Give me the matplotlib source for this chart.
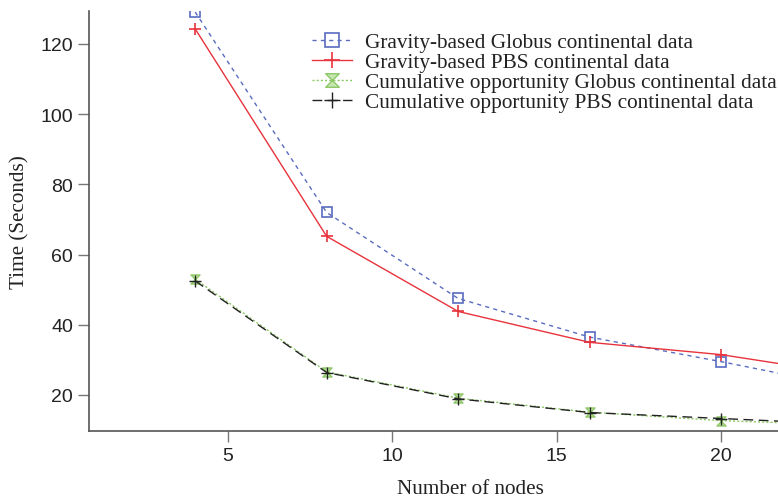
import numpy as np
import matplotlib
matplotlib.use("Agg")
import matplotlib.pyplot as plt
from matplotlib.path import Path

nodes = [4, 8, 12, 16, 20, 24]
grav_globus = [129.1, 72.0, 47.5, 36.5, 29.5, 22.0]
grav_pbs = [124.3, 65.2, 43.8, 35.0, 31.5, 25.7]
cum_globus = [53.0, 26.6, 19.1, 15.1, 12.7, 11.4]
cum_pbs = [52.5, 26.4, 18.9, 15.0, 13.3, 11.6]

labels = [
    "Gravity-based Globus continental data",
    "Gravity-based PBS continental data",
    "Cumulative opportunity Globus continental data",
    "Cumulative opportunity PBS continental data",
]

xticks = [5, 10, 15, 20]
yticks = [20, 40, 60, 80, 100, 120]

hourglass = Path([(-1, 1), (1, 1), (-1, -1), (1, -1), (-1, 1)],
                 [Path.MOVETO, Path.LINETO, Path.LINETO, Path.LINETO, Path.CLOSEPOLY])

fig = plt.figure(figsize=(7.78, 5.02), dpi=100)
ax = fig.add_axes([89/778, 70/502, 1 - 89/778, (432-12)/502])

blue = "#5a6cc0"
red = "#e8333c"
green = "#8cc865"

ax.plot(nodes, grav_globus, color=blue, lw=1.0, ls=(0, (3, 3)), marker="s", ms=7,
        mfc="none", mec=blue, mew=1.2, label=labels[0])
ax.plot(nodes, grav_pbs, color=red, lw=1.0, ls="-", marker="+", ms=8, mew=1.2,
        label=labels[1])
ax.plot(nodes, cum_globus, color=green, lw=1.0, ls=(0, (1.5, 1.5)), marker=hourglass, ms=6.5,
        mfc="#c8e6b0", mec=green, mew=1.0, label=labels[2])
ax.plot(nodes, cum_pbs, color="#222222", lw=1.0, ls=(0, (7, 4)), marker="+", ms=8, mew=1.0,
        label=labels[3])

ax.set_xlim(0.77, 21.73)
ax.set_ylim(9.74, 129.4)
ax.set_xticks(xticks)
ax.set_yticks(yticks)

for s in ["top", "right"]:
    ax.spines[s].set_visible(False)
for s in ["left", "bottom"]:
    ax.spines[s].set_color("#555555")
    ax.spines[s].set_linewidth(1.2)
ax.tick_params(direction="out", length=8, width=1.0, color="#777777",
               labelsize=14, labelcolor="#222222")
for t in ax.get_xticklabels() + ax.get_yticklabels():
    t.set_fontfamily("Liberation Sans")

ax.set_xlabel("Number of nodes", fontfamily="Liberation Serif", fontsize=15.2,
              color="#222222")
ax.xaxis.set_label_coords(0.554, -0.115)
ax.set_ylabel("Time (Seconds)", fontfamily="Liberation Serif", fontsize=15.2,
              color="#222222", labelpad=8)

leg = ax.legend(loc="upper left", bbox_to_anchor=(0.311, 0.969), frameon=False,
                prop={"family": "Liberation Serif", "size": 15.3}, labelspacing=0.0,
                handlelength=1.9, handletextpad=0.6, borderaxespad=0, markerscale=1.5)
for t in leg.get_texts():
    t.set_color("#222222")

fig.savefig("out.png", dpi=100)
